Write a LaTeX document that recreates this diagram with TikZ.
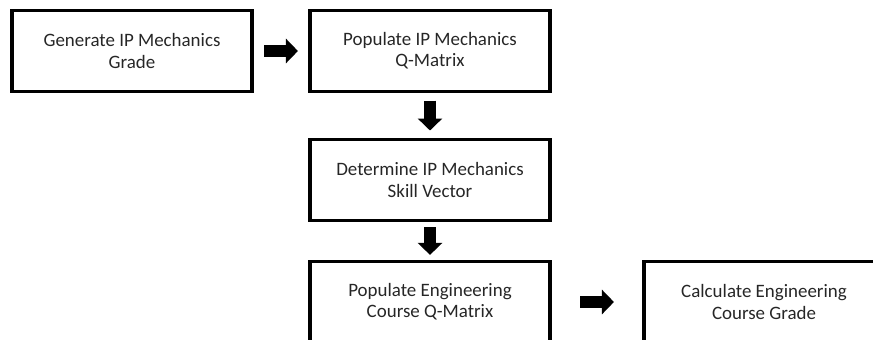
\documentclass[tikz,border=0pt]{standalone}
\usepackage{fontspec}
\setmainfont{Carlito}
\usetikzlibrary{arrows.meta}

\begin{document}
\begin{tikzpicture}[x=0.75pt,y=-0.75pt,
    stepbox/.style={draw=black,line width=2.3pt,minimum width=180pt,minimum height=60.75pt,
      align=center,inner sep=0pt,text=black!85,font=\fontsize{14.2}{16}\selectfont},
    fatarrow/.style={line width=8.6pt,-{Triangle[length=9pt,width=18pt]}}]
  \clip (0,0) rectangle (873,339);

  \node[stepbox] (ipgrade) at (132,51) {Generate IP Mechanics\\Grade};
  \node[stepbox] (ipqmat) at (430,51) {Populate IP Mechanics\\Q-Matrix};
  \node[stepbox] (ipskill) at (430,180) {Determine IP Mechanics\\Skill Vector};
  \node[stepbox] (engqmat) at (430,302) {Populate Engineering\\Course Q-Matrix};
  \node[stepbox] (enggrade) at (764,302) {Calculate Engineering\\Course Grade};

  \draw[fatarrow,shorten <=7.9pt,shorten >=7.9pt] (ipgrade) -- (ipqmat);
  \draw[fatarrow,shorten <=5.6pt,shorten >=5.6pt] (ipqmat) -- (ipskill);
  \draw[fatarrow,shorten <=3.8pt,shorten >=3.8pt] (ipskill) -- (engqmat);
  \draw[fatarrow,shorten <=21.4pt,shorten >=21.4pt] (engqmat) -- (enggrade);
\end{tikzpicture}
\end{document}
